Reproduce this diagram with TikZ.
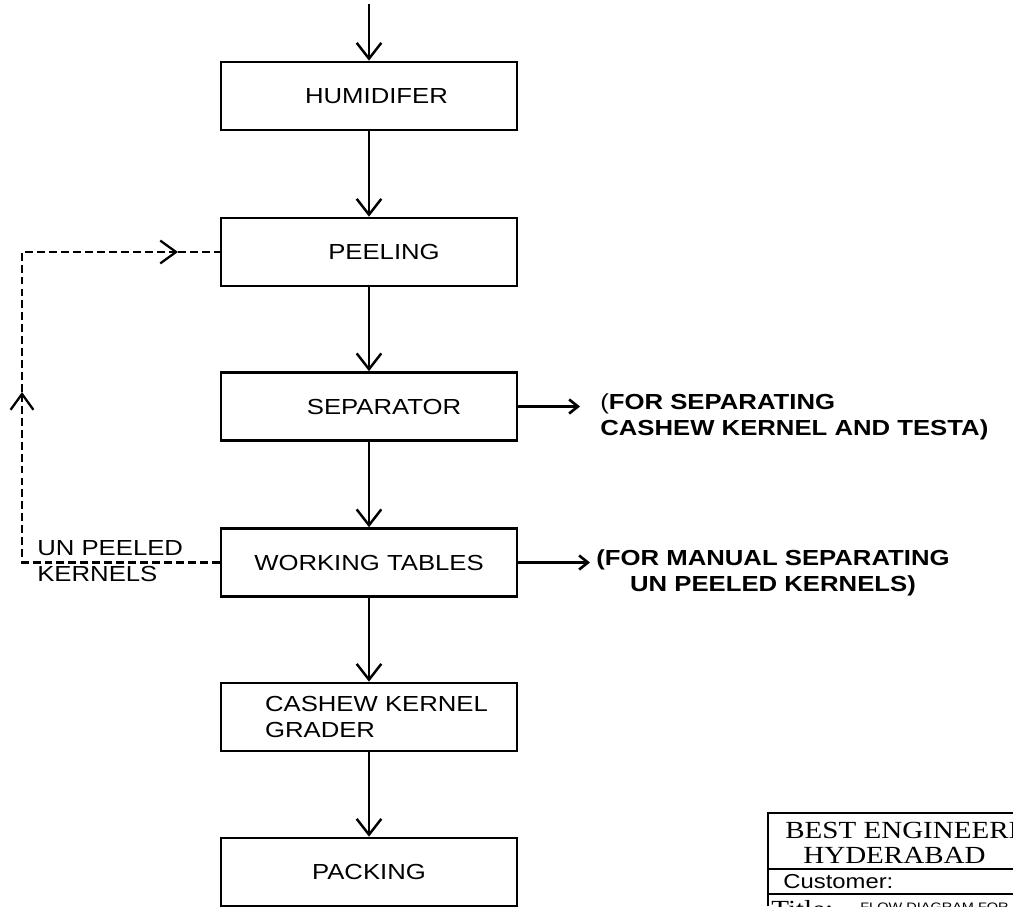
\documentclass[tikz,border=0pt]{standalone}
\usepackage{fontspec}
\setmainfont{Liberation Sans}[FakeStretch=1.18]
\newfontfamily\titlefont{Liberation Serif}[FakeStretch=1.18]
\usetikzlibrary{arrows.meta,positioning}

\tikzset{
  stagebox/.style={draw,line width=1.5pt,minimum width=5.92cm,minimum height=1.36cm,inner sep=0pt},
  flow/.style={line width=1.2pt,-{Straight Barb[length=9pt,width=14pt,line width=1.4pt]}},
  side/.style={line width=1.2pt,-{Straight Barb[length=5pt,width=8pt,line width=1.5pt]}},
  recycle/.style={line width=1.2pt,dash pattern=on 4.5pt off 2.3pt},
  backtip/.style={-{Straight Barb[length=9pt,width=13pt,line width=1.3pt]}},
  note/.style={inner sep=0pt,font=\fontsize{12.4}{14.4}\selectfont\bfseries},
  tbline/.style={line width=1.6pt}
}

\begin{document}
\begin{tikzpicture}[x=0.02cm,y=-0.02cm,font=\fontsize{12.4}{14.7}\selectfont]
\clip (0,0) rectangle (1013,906);
%process boxes
\node[stagebox] (hum) at (369,96) {\hspace*{0.3cm}HUMIDIFER};
\node[stagebox] (pe) at (369,252) {\hspace*{0.6cm}PEELING};
\node[stagebox] (sep) at (369,406.5) {\hspace*{0.6cm}SEPARATOR};
\node[stagebox] (wt) at (369,562.5) {WORKING TABLES};
\node[stagebox,align=left] (gr) at (369,717) {\hspace*{0.3cm}CASHEW KERNEL\\\hspace*{0.3cm}GRADER};
\node[stagebox] (pa) at (369,872) {PACKING};
%main flow
\coordinate (in) at (369,4);
\draw[flow] (in) -- (hum);
\foreach \a/\b in {hum/pe,pe/sep,sep/wt,wt/gr,gr/pa}
\draw[flow] (\a) -- (\b);
%un peeled kernels back to peeling
\coordinate (lc) at (22,562.5);
\coordinate (up) at (22,392);
\coordinate (uc) at (22,252);
\coordinate (rt) at (178,252);
\draw[recycle,backtip] (wt.west) -- (lc) -- (up);
\draw[recycle,backtip] (up) -- (uc) -- (rt);
\draw[recycle] (rt) -- (pe.west);
\node[inner sep=0pt,anchor=west,align=left] (unpeeled) at (37,561) {UN PEELED\\KERNELS};
%side notes
\coordinate (sa) at (580,406.5);
\draw[side] (sep.east) -- (sa);
\node[note,anchor=west,align=left] (sepnote) at (600,417) {{\mdseries(}FOR SEPARATING\\CASHEW KERNEL AND TESTA)};
\coordinate (wa) at (590,562.5);
\draw[side] (wt.east) -- (wa);
\node[note,align=center] (wtnote) at (773,573) {(FOR MANUAL SEPARATING\\UN PEELED KERNELS)};
%title block
\draw[tbline] (768,906) -- (768,813) -- (1013,813);
\draw[tbline] (768,869) -- (1013,869);
\draw[tbline] (768,894) -- (1013,894);
\node[inner sep=0pt,anchor=base west,font=\titlefont\fontsize{14}{16}\selectfont] (firm) at (785,838) {BEST ENGINEERING};
\node[inner sep=0pt,anchor=base west,font=\titlefont\fontsize{14}{16}\selectfont] (city) at (803,863) {HYDERABAD};
\node[inner sep=0pt,anchor=base west,font=\fontsize{11.5}{13}\selectfont] (cust) at (783,888) {Customer:};
\node[inner sep=0pt,anchor=base west,font=\titlefont\fontsize{14}{16}\selectfont] (ttl) at (771,917) {Title:};
\node[inner sep=0pt,anchor=base west,font=\fontsize{7}{8}\selectfont] (ttltext) at (860,911) {FLOW DIAGRAM FOR};
\end{tikzpicture}
\end{document}
